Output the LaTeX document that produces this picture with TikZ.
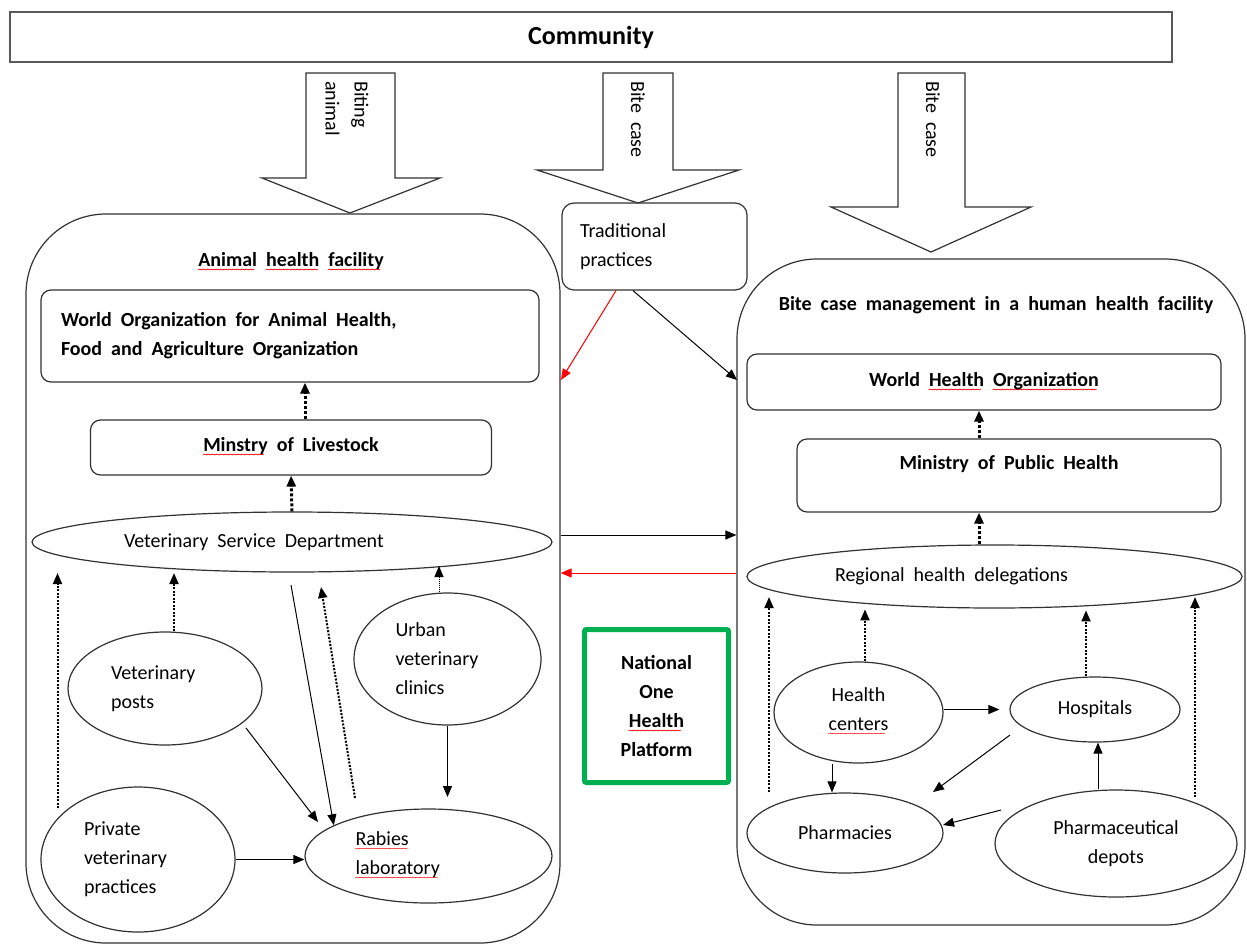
\documentclass[tikz,border=0pt]{standalone}
\usepackage{fontspec}
\setmainfont{Carlito}
\newfontfamily\wavef{DejaVu Sans}
\usetikzlibrary{arrows.meta,shapes.geometric}
\definecolor{obgreen}{RGB}{0,176,80}
\definecolor{lncol}{RGB}{50,50,50}
\newcommand\rw[1]{\setbox0\hbox{#1}\leavevmode\rlap{\raisebox{-6pt}{\color{red}\wavef\fontsize{8}{8}\selectfont\leaders\hbox{\kern-1.2pt\char"223C\kern-1.2pt}\hskip\wd0\relax}}\box0\relax}
\newcommand\wsp{\spaceskip=9pt plus 2pt minus 1pt\relax}
\newcommand\regf{\fontsize{20}{29}\selectfont\wsp}
\newcommand\bldf{\fontsize{20}{29}\selectfont\bfseries\wsp}
\tikzset{
  every node/.style={font=\regf, inner sep=0pt, text=black, execute at begin node={\wsp}},
  bd/.style={font=\bldf},
  ln/.style={line width=1.2pt, draw=lncol},
  rbox/.style={ln, rectangle, rounded corners=10pt},
  ell/.style={ln, ellipse},
  cont/.style={ln, rectangle, rounded corners=80pt},
  blockarrow/.style={ln, fill=white, line join=miter},
  tip/.style={-{Triangle[length=11pt,width=9pt]}},
  sarr/.style={tip, line width=1pt, draw=black},
  rarr/.style={tip, line width=1pt, draw=red, fill=red},
  darr/.style={tip, line width=3pt, draw=black, dash pattern=on 3pt off 2pt},
  marr/.style={tip, line width=2pt, draw=black, dash pattern=on 2pt off 1.5pt},
  tarr/.style={tip, line width=1pt, draw=black, dash pattern=on 1pt off 1pt},
}
\begin{document}
\begin{tikzpicture}[x=1pt,y=-1pt]
\useasboundingbox (0,0) rectangle (1247,945);
\fill[white] (0,0) rectangle (1247,945);

% community
\node[ln, draw=black!65, line width=1.6pt, rectangle, minimum width=1162, minimum height=50,
      font=\fontsize{26}{30}\selectfont\bfseries] (comm) at (591,37) {Community};

% block arrows
\draw[blockarrow] (306,73) -- (395,73) -- (395,178) -- (440,178) -- (350,213) -- (262,178) -- (306,178) -- cycle;
\draw[blockarrow] (603,73) -- (673,73) -- (673,170) -- (739,170) -- (638,203) -- (537,170) -- (603,170) -- cycle;
\draw[blockarrow] (898,73) -- (965,73) -- (965,207) -- (1031,207) -- (931,252) -- (831,207) -- (898,207) -- cycle;
\node[rotate=-90, anchor=west, align=left] (lab1) at (347,81) {Biting\\animal};
\node[rotate=-90, anchor=west] (lab2) at (638,81) {Bite case};
\node[rotate=-90, anchor=west] (lab3) at (933,81) {Bite case};

% containers
\node[cont, minimum width=534, minimum height=729] (ahf) at (293,578.5) {};
\node[cont, minimum width=508, minimum height=666] (bcm) at (991,592) {};

% left side
\node[bd] (aht) at (291,262) {\rw{Animal} \rw{health} \rw{facility}};
\node[rbox, bd, minimum width=498, minimum height=92, text width=458, align=left] (woah) at (290,336)
  {World Organization for Animal Health,\\Food and Agriculture Organization};
\node[rbox, bd, minimum width=401, minimum height=55] (mol) at (291,447.5) {\rw{Minstry} of Livestock};
\node[ell, minimum width=520, minimum height=60, text width=336, align=left] (vsd) at (292,542) {Veterinary Service Department};
\node[ell, minimum width=194, minimum height=113, text width=108, align=left] (vp) at (165,688.5) {Veterinary\\posts};
\node[ell, minimum width=194, minimum height=145, text width=108, align=left] (pvp) at (138,859.5) {Private\\veterinary\\practices};
\node[ell, minimum width=187, minimum height=132, text width=104, align=left] (uvc) at (447.5,659) {Urban\\veterinary\\clinics};
\node[ell, minimum width=247, minimum height=94, text width=146, align=left] (rab) at (428.5,856) {\rw{Rabies}\\\rw{laboratory}};

% traditional
\node[rbox, rounded corners=12pt, minimum width=185, minimum height=87, text width=149, align=left] (trad) at (654.5,246.5) {Traditional\\practices};

% right side
\node[bd] (bct) at (996,305) {Bite case management in a human health facility};
\node[rbox, bd, minimum width=474, minimum height=56] (who) at (984,382) {World \rw{Health} \rw{Organization}};
\node[rbox, bd, minimum width=424, minimum height=73, text height=13pt, text depth=25pt] (mph) at (1009,475.5) {Ministry of Public Health};
\node[ell, minimum width=495, minimum height=63, text width=319, align=left] (rhd) at (994.5,576.5) {Regional health delegations};
\node[ell, minimum width=169, minimum height=101, align=center] (hc) at (858.5,712.5) {Health\\\rw{centers}};
\node[ell, minimum width=170, minimum height=65] (hosp) at (1095,709.5) {Hospitals};
\node[ell, minimum width=196, minimum height=80] (pharm) at (845,833) {Pharmacies};
\node[ell, minimum width=242, minimum height=107, align=center] (pd) at (1116,843.5) {Pharmaceutical\\depots};

% green platform
\node[draw=obgreen, line width=5pt, rounded corners=2pt, minimum width=144, minimum height=153, bd, align=center] (noh) at (656.5,706)
  {National\\One\\\rw{Health}\\Platform};

% free ends
\coordinate (pvpup) at (57.5,808);
\coordinate (vsdbl) at (57.5,573);
\coordinate (vsdd) at (291,585);
\coordinate (rabup) at (355,798);
\coordinate (vsdr) at (321,587);
\coordinate (vsdu) at (439,566);
\coordinate (vpo) at (246,728);
\coordinate (rabl) at (318,822);
\coordinate (rabt) at (447.5,797);
\coordinate (ahfr) at (561,380);
\coordinate (bcml) at (737,380);
\coordinate (phup) at (769,792);
\coordinate (rhdl) at (769,597);
\coordinate (pdup) at (1195,797);
\coordinate (rhdr) at (1195,597);
\coordinate (hosplo) at (1010,735);
\coordinate (pharmr) at (933,792);
\coordinate (pdl) at (1001,810);
\coordinate (pharme) at (943,825);

% left connectors
\draw[darr] ([xshift=14pt]mol.north) -- ([xshift=14pt]mol.north |- woah.south);
\draw[darr] (vsd.north) -- (mol.south);
\draw[marr] (pvpup) -- (vsdbl);
\draw[marr] ([xshift=9pt]vp.north) -- ([xshift=9pt]vp.north |- vsdbl);
\draw[sarr] (vsdd) -- (rab.162);
\draw[marr] (rabup) -- (vsdr);
\draw[tarr] ([xshift=-8.5pt]uvc.north) -- (vsdu);
\draw[sarr] (vpo) -- (rabl);
\draw[sarr] (uvc.south) -- (rabt);
\draw[sarr] (pvp.east) -- (pvp.east -| rab.west);

% middle connectors
\draw[rarr] ([xshift=-38.5pt]trad.south) -- (ahfr);
\draw[sarr] ([xshift=-21.5pt]trad.south) -- (bcml);
\draw[sarr] (ahf.east |- 0,535) -- (bcm.west |- 0,535);
\draw[rarr] (bcm.west |- 0,573) -- (ahf.east |- 0,573);

% right connectors
\draw[darr] ([xshift=-30pt]mph.north) -- ([xshift=-30pt]mph.north |- who.south);
\draw[darr] ([xshift=-15.5pt]rhd.north) -- ([xshift=-15.5pt]rhd.north |- mph.south);
\draw[marr] (phup) -- (rhdl);
\draw[marr] (pdup) -- (rhdr);
\draw[marr] ([xshift=6.5pt]hc.north) -- ++(0,-52);
\draw[marr] ([xshift=-9pt]hosp.north) -- ++(0,-66);
\draw[sarr] (hc.east |- hosp.west) -- ([xshift=-10pt]hosp.west);
\draw[sarr] ([xshift=-26.5pt]hc.south) -- ([xshift=-26.5pt]hc.south |- pharm.north);
\draw[sarr] (hosplo) -- (pharmr);
\draw[sarr] (pdl) -- (pharme);
\draw[sarr] ([xshift=-18pt]pd.north) -- ([xshift=-18pt]pd.north |- hosp.south);
\end{tikzpicture}
\end{document}
